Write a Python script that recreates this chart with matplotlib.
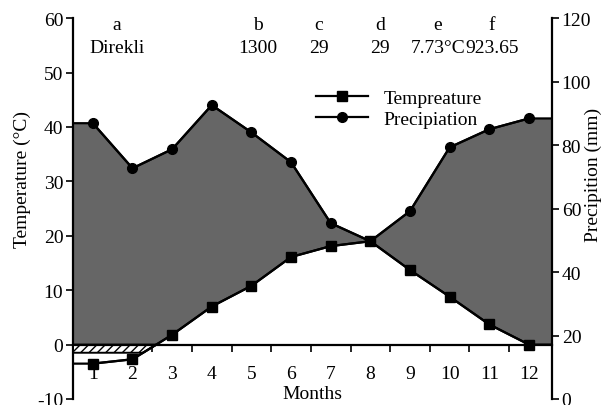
import numpy as np
import matplotlib
matplotlib.use("Agg")
import matplotlib.pyplot as plt
from matplotlib.patches import Polygon

plt.rcParams['font.family'] = ['Liberation Serif', 'DejaVu Serif']
plt.rcParams['axes.unicode_minus'] = False

# datos
meses = [1, 2, 3, 4, 5, 6, 7, 8, 9, 10, 11, 12]
temperatura = [-3.5, -2.7, 1.8, 7.0, 10.8, 16.1, 18.1, 19.0, 13.7, 8.8, 3.7, 0.0]
precipitacion = [86.9, 72.7, 78.7, 92.6, 84.0, 74.6, 55.4, 49.7, 59.2, 79.3, 85.0, 88.4]

# encabezado de la estacion
claves = ['a', 'b', 'c', 'd', 'e', 'f']
valores = ['Direkli', '1300', '29', '29', '7.73°C', '923.65']
claves_x = [1.6, 5.16, 6.7, 8.24, 9.7, 11.07]

x_min, x_max = 0.5, 12.58
t_min, t_max = -10, 60
p_min, p_max = 0, 120
gris = '#666666'
fs = 14


def p_a_t(p):
    # convierte mm al eje de temperatura
    return np.asarray(p) * (t_max - t_min) / (p_max - p_min) + t_min


fig = plt.figure(figsize=(6.07, 4.06), dpi=100)
ax = fig.add_axes([0.1203, 0.0148, 0.789, 0.938])
ax2 = ax.twinx()

x_ext = np.array([x_min] + meses + [x_max])
t_ext = np.array([temperatura[0]] + temperatura + [temperatura[-1]])
p_ext = np.array([precipitacion[0]] + precipitacion + [precipitacion[-1]])

# area gris entre precipitacion y temperatura
ax.fill_between(x_ext, p_a_t(p_ext), t_ext, color=gris, lw=0, zorder=1)
ax.fill_between(x_ext, t_ext, 0, where=t_ext <= 0, interpolate=True,
                color='white', lw=0, zorder=2)

# banda rayada de meses con helada
prof = -1.5
xc = np.interp(0, [temperatura[1], temperatura[2]], [meses[1], meses[2]])
xh = np.interp(prof, [temperatura[1], temperatura[2]], [meses[1], meses[2]])
banda = Polygon([(x_min, 0), (xc, 0), (xh, prof), (x_min, prof)], closed=True,
                facecolor='white', edgecolor='black', hatch='////', lw=1.4, zorder=3)
ax.add_patch(banda)

# lineas
ax.plot(x_ext, t_ext, color='black', lw=1.6, zorder=4)
l_t, = ax.plot(meses, temperatura, color='black', lw=1.6, marker='s', ms=6.5,
               zorder=5, label='Tempreature')
ax2.plot(x_ext, p_ext, color='black', lw=1.6, zorder=4)
l_p, = ax2.plot(meses, precipitacion, color='black', lw=1.6, marker='o', ms=7,
                zorder=5, label='Precipiation')

ax.set_xlim(x_min, x_max)
ax.set_ylim(t_min, t_max)
ax2.set_ylim(p_min, p_max)

for s in ['top', 'right']:
    ax.spines[s].set_visible(False)
for s in ['top', 'left', 'bottom']:
    ax2.spines[s].set_visible(False)
ax.spines['bottom'].set_position(('data', 0))
ax.spines['bottom'].set_zorder(6)
ax.spines['left'].set_linewidth(1.6)
ax.spines['bottom'].set_linewidth(1.6)
ax2.spines['right'].set_linewidth(1.6)

ax.set_yticks(range(t_min, t_max + 1, 10))
ax2.set_yticks(range(p_min, p_max + 1, 20))
ax.set_xticks(meses)
ax.set_xticks(np.arange(1.5, 12, 1), minor=True)
ax.tick_params(axis='x', which='major', length=0, pad=15, labelsize=fs)
ax.tick_params(axis='x', which='minor', length=5, width=1.2, direction='out')
ax.tick_params(axis='y', length=5, width=1.2, labelsize=fs, pad=2)
ax2.tick_params(axis='y', length=5, width=1.2, labelsize=fs, pad=2)

ax.text((x_min + x_max) / 2, -8.9, 'Months', ha='center', va='center', fontsize=fs)
fig.text(0.036, 0.557, 'Temperature (°C)', rotation=90, ha='center', va='center', fontsize=fs)
fig.text(0.977, 0.569, 'Precipition (mm)', rotation=90, ha='center', va='center', fontsize=fs)

for k, v, xx in zip(claves, valores, claves_x):
    ax.text(xx, 58.9, k, ha='center', va='center', fontsize=fs)
    ax.text(xx, 54.6, v, ha='center', va='center', fontsize=fs)

ax2.legend(handles=[l_t, l_p], loc='upper left', bbox_to_anchor=(0.47, 0.86),
           frameon=False, fontsize=fs, handlelength=2.7, handletextpad=0.8,
           labelspacing=0.2)

fig.savefig('out.png', dpi=100)
